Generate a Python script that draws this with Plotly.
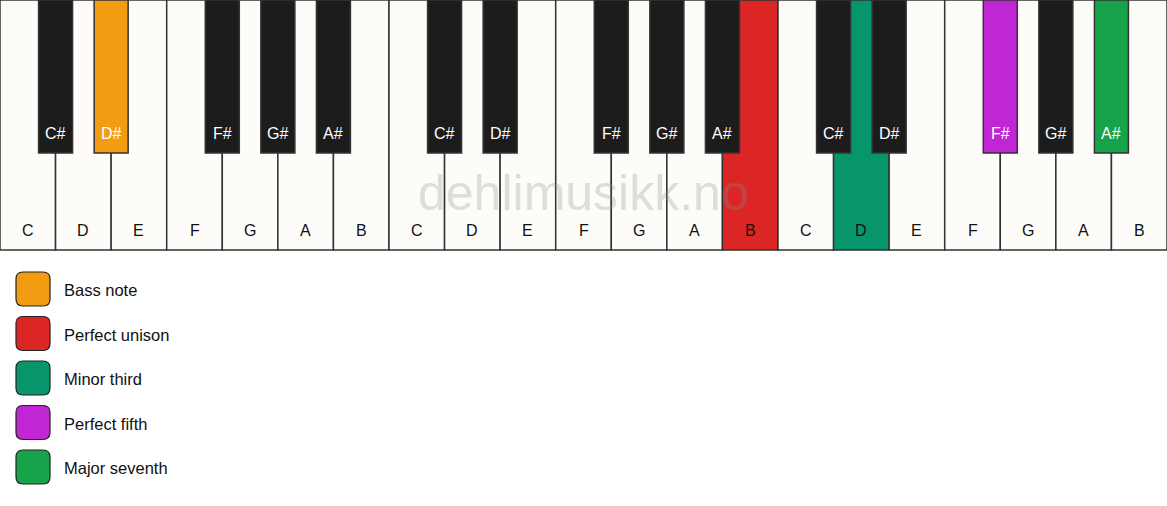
import plotly.graph_objects as go

# keyboard data
white_notes = ["C", "D", "E", "F", "G", "A", "B"] * 3
black_notes = ["C#", "D#", None, "F#", "G#", "A#", None] * 3  # black key after each white key
highlight = {  # (key type, index) -> colour
    ("black", 1): "#F39C12",
    ("white", 13): "#DC2626",
    ("white", 15): "#07966B",
    ("black", 17): "#C026D3",
    ("black", 19): "#17A34A",
}
legend_labels = ["Bass note", "Perfect unison", "Minor third", "Perfect fifth", "Major seventh"]
legend_colors = ["#F39C12", "#DC2626", "#07966B", "#C026D3", "#17A34A"]

W, H = 1167, 506
n_white = len(white_notes)
kw = W / n_white
kb_h = 250
bk_w = 34
bk_h = 153
edge = "#333333"

fig = go.Figure()
shapes = []
annotations = []

for i, note in enumerate(white_notes):
    col = highlight.get(("white", i), "#FDFCF9")
    shapes.append(dict(type="rect", x0=i * kw, x1=(i + 1) * kw, y0=0, y1=kb_h,
                       fillcolor=col, line=dict(color=edge, width=1.5), layer="below"))
    annotations.append(dict(x=(i + 0.5) * kw, y=230, text=note, showarrow=False,
                            font=dict(size=16, color="#111111")))

for i, note in enumerate(black_notes):
    if note is None or i == n_white - 1:
        continue
    col = highlight.get(("black", i), "#1C1C1C")
    cx = (i + 1) * kw
    shapes.append(dict(type="rect", x0=cx - bk_w / 2, x1=cx + bk_w / 2, y0=0, y1=bk_h,
                       fillcolor=col, line=dict(color=edge, width=1.5), layer="below"))
    annotations.append(dict(x=cx, y=133, text=note, showarrow=False,
                            font=dict(size=16, color="#FFFFFF")))

# legend
def rounded(x0, y0, x1, y1, r):
    return (f"M {x0 + r},{y0} L {x1 - r},{y0} Q {x1},{y0} {x1},{y0 + r} "
            f"L {x1},{y1 - r} Q {x1},{y1} {x1 - r},{y1} L {x0 + r},{y1} "
            f"Q {x0},{y1} {x0},{y1 - r} L {x0},{y0 + r} Q {x0},{y0} {x0 + r},{y0} Z")

for j, (lab, col) in enumerate(zip(legend_labels, legend_colors)):
    y0 = 272 + j * 44.5
    shapes.append(dict(type="path", path=rounded(16, y0, 50, y0 + 34, 7),
                       fillcolor=col, line=dict(color="#222222", width=1.2)))
    annotations.append(dict(x=62, y=y0 + 18, text=lab, showarrow=False, xanchor="left",
                            font=dict(size=16.5, color="#111111")))

# watermark
annotations.append(dict(x=W / 2, y=193, text="dehlimusikk.no", showarrow=False,
                        font=dict(size=50, color="rgba(140,140,140,0.28)")))

fig.update_layout(
    width=W, height=H,
    margin=dict(l=0, r=0, t=0, b=0),
    paper_bgcolor="white", plot_bgcolor="white",
    shapes=shapes, annotations=annotations,
    font=dict(family="Liberation Sans, Arial, sans-serif"),
    xaxis=dict(range=[0, W], visible=False, fixedrange=True),
    yaxis=dict(range=[H, 0], visible=False, fixedrange=True),
    showlegend=False,
)

fig.write_html("out.html", config={"displayModeBar": False},
               post_script="document.body.style.margin='0';")
